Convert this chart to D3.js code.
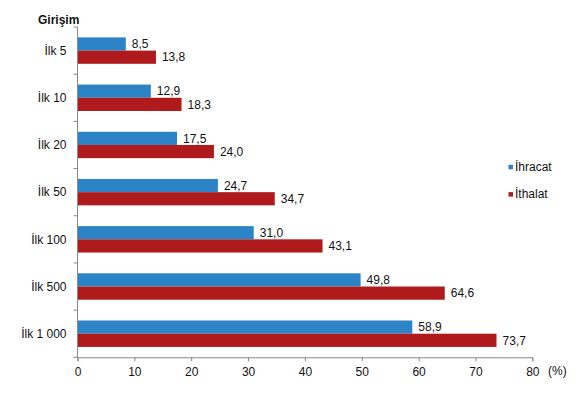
<!DOCTYPE html>
<html>
<head>
<meta charset="utf-8">
<script src="https://cdn.jsdelivr.net/npm/d3@7"></script>
<style>
  body { margin: 0; background: #fff; }
  text { font-family: "Liberation Sans", Arial, sans-serif; }
</style>
</head>
<body>
<div id="vis"></div>
<script>
// categories and series
var categories = ["İlk 5", "İlk 10", "İlk 20", "İlk 50", "İlk 100", "İlk 500", "İlk 1 000"];
var ihracat = [8.5, 12.9, 17.5, 24.7, 31.0, 49.8, 58.9];
var ithalat = [13.8, 18.3, 24.0, 34.7, 43.1, 64.6, 73.7];
var seriesNames = ["İhracat", "İthalat"];
var xTicks = [0, 10, 20, 30, 40, 50, 60, 70, 80];

var width = 578, height = 394;
var colors = ["#2C83C6", "#AF1B1C"];

var svg = d3.select("#vis").append("svg")
	.attr("width", width)
	.attr("height", height);

var x = d3.scaleLinear().domain([0, 80]).range([77.5, 532.3]);
var y = d3.scaleBand().domain(categories).range([27, 357.3]).paddingInner(0.44).paddingOuter(0.22);
var y1 = d3.scaleBand().domain([0, 1]).range([0, y.bandwidth()]);

var fmt = function (v) { return d3.format(".1f")(v).replace(".", ","); };

// bars
var data = categories.map(function (c, i) {
	return { cat: c, vals: [ihracat[i], ithalat[i]] };
});

var groups = svg.selectAll(".grp")
	.data(data)
	.enter().append("g")
	.attr("transform", d => "translate(0," + y(d.cat) + ")");

groups.selectAll("rect")
	.data(d => d.vals)
	.enter().append("rect")
	.attr("x", x(0))
	.attr("y", (d, i) => y1(i))
	.attr("width", d => x(d) - x(0))
	.attr("height", y1.bandwidth())
	.attr("fill", (d, i) => colors[i]);

groups.selectAll(".lbl")
	.data(d => d.vals)
	.enter().append("text")
	.attr("x", d => x(d) + 6)
	.attr("y", (d, i) => y1(i) + y1.bandwidth() / 2)
	.attr("dy", "0.35em")
	.attr("font-size", 12)
	.attr("fill", "#111")
	.text(fmt);

// axes
var gx = svg.append("g")
	.attr("transform", "translate(0,357.3)")
	.call(d3.axisBottom(x).tickValues(xTicks).tickSize(4).tickPadding(6).tickFormat(d3.format("d")));

var yTickPos = d3.range(categories.length + 1).map(k => 27 + k * y.step());
var gy = svg.append("g").attr("transform", "translate(77.5,0)");
gy.append("line").attr("y1", 27).attr("y2", 357.3).attr("stroke", "#888");
gy.selectAll(".tk").data(yTickPos).enter().append("line")
	.attr("x1", -4).attr("x2", 0)
	.attr("y1", d => d).attr("y2", d => d)
	.attr("stroke", "#888");
gy.selectAll(".cat").data(categories).enter().append("text")
	.attr("x", -11)
	.attr("y", d => y(d) + y.bandwidth() / 2)
	.attr("dy", "0.35em")
	.attr("text-anchor", "end")
	.attr("font-size", 12)
	.attr("fill", "#111")
	.text(d => d);

gx.select(".domain").attr("stroke", "#888");
gx.selectAll(".tick line").attr("stroke", "#888");
gx.selectAll(".tick text").attr("font-size", 12).attr("fill", "#111")
	.attr("font-family", "Liberation Sans, Arial, sans-serif");

svg.append("text")
	.attr("x", 548).attr("y", 375)
	.attr("font-size", 12).attr("fill", "#111")
	.text("(%)");

svg.append("text")
	.attr("x", 38).attr("y", 24)
	.attr("font-size", 12).attr("font-weight", "bold").attr("fill", "#111")
	.text("Girişim");

// legend
var legend = svg.selectAll(".leg")
	.data(seriesNames)
	.enter().append("g")
	.attr("transform", (d, i) => "translate(508.5," + (164.8 + i * 27.3) + ")");
legend.append("rect").attr("width", 4.5).attr("height", 4.5).attr("fill", (d, i) => colors[i]);
legend.append("text").attr("x", 6.5).attr("y", 6)
	.attr("font-size", 12).attr("fill", "#111").text(d => d);
</script>
</body>
</html>
